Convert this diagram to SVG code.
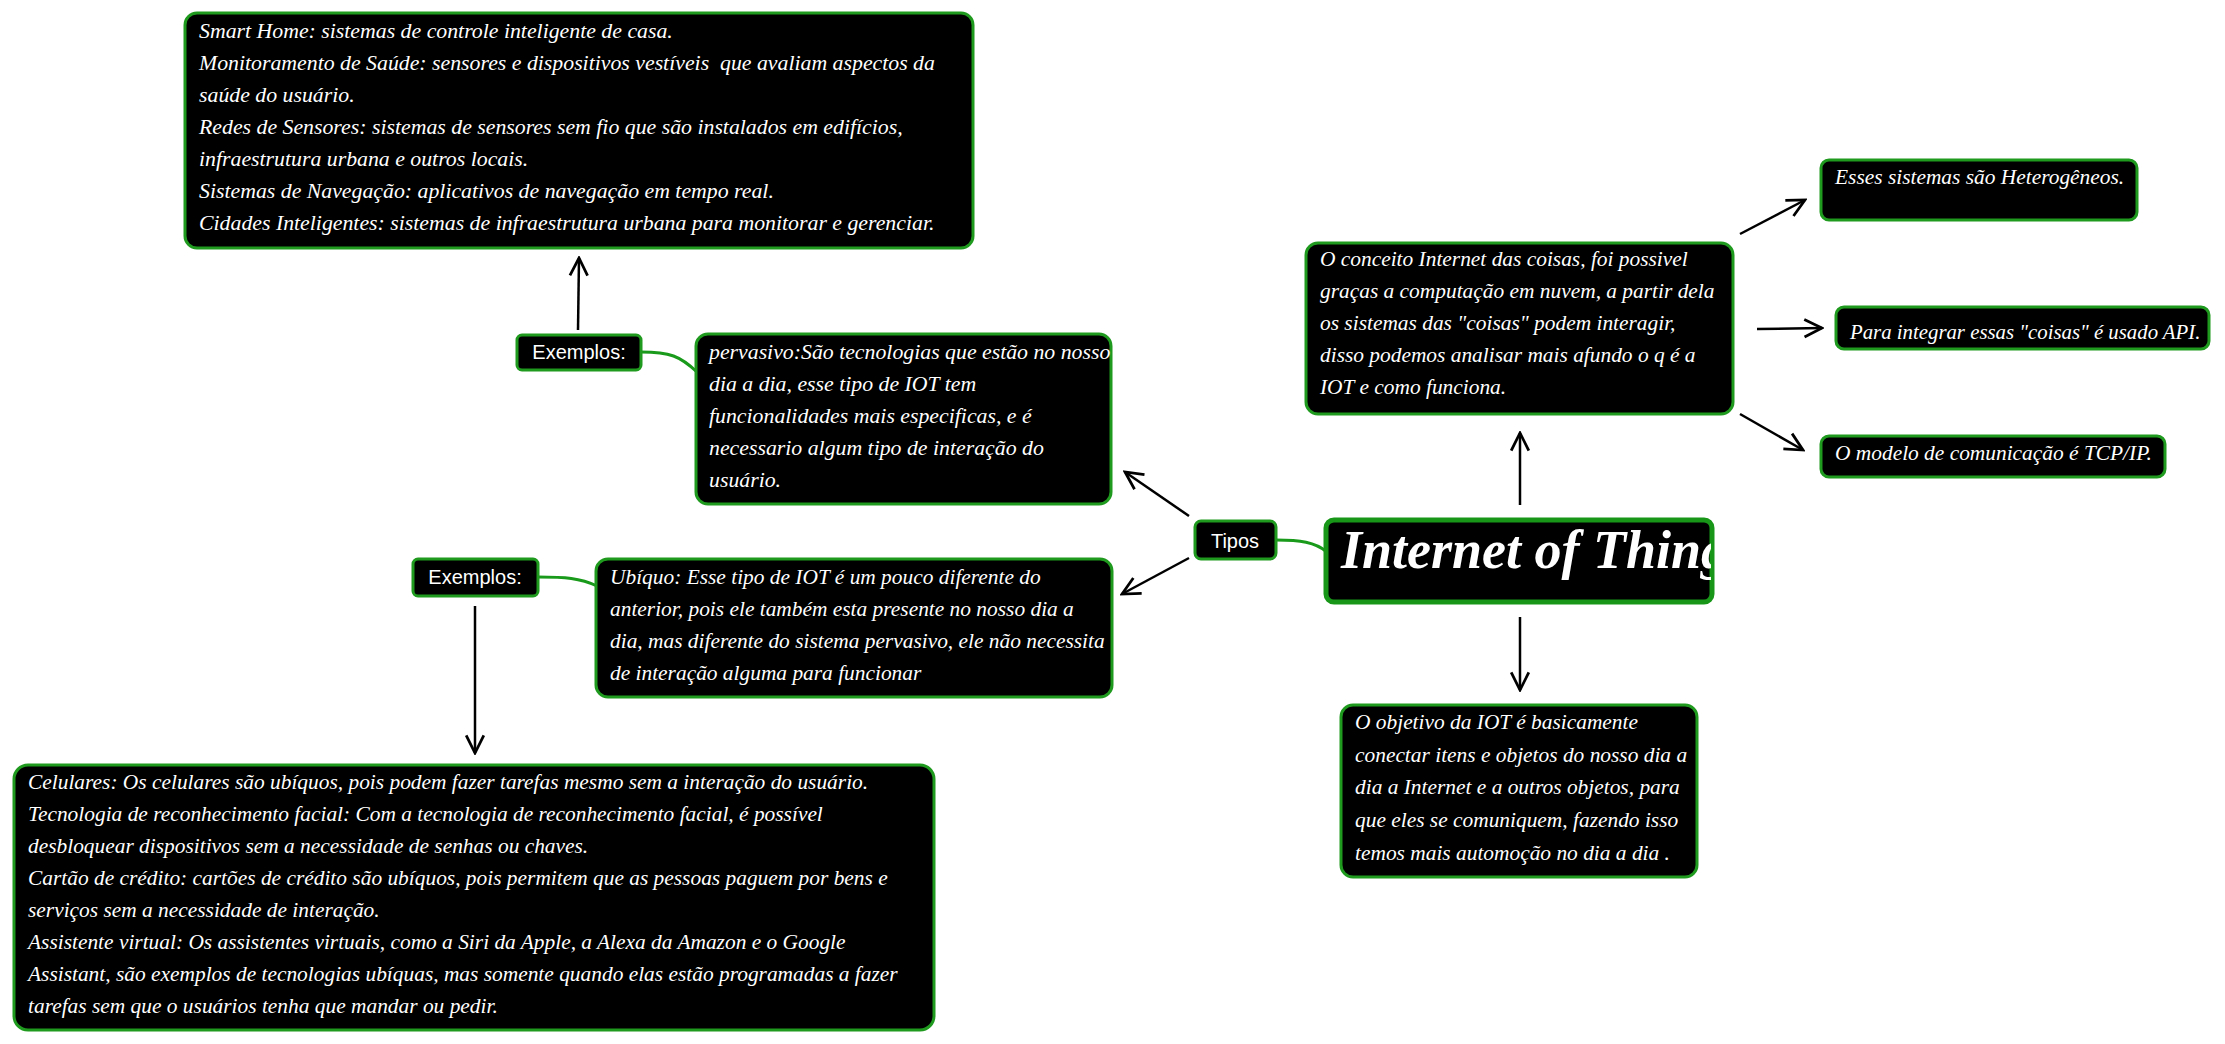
<svg xmlns="http://www.w3.org/2000/svg" width="2225" height="1044" viewBox="0 0 2225 1044">
<style>
.box{fill:#000;stroke:#1f9a1f;stroke-width:3}
.main{fill:#000;stroke:#179617;stroke-width:5}
.t{font-family:"Liberation Serif","Times New Roman",serif;font-style:italic;font-size:21.4px;fill:#fff;white-space:pre}
.w{font-size:21.8px}
.n{font-size:20.8px}
.s{font-family:"Liberation Sans",Arial,sans-serif;font-size:20px;fill:#fff;text-anchor:middle}
.title{font-family:"Liberation Serif","Times New Roman",serif;font-style:italic;font-weight:bold;font-size:54px;fill:#fff}
.arr{stroke:#000;stroke-width:2.5;fill:none;marker-end:url(#ah)}
.gl{stroke:#1a9a1a;stroke-width:3;fill:none}
</style>
<defs>
<marker id="ah" viewBox="0 0 20 20" refX="18" refY="10" markerWidth="22" markerHeight="22" markerUnits="userSpaceOnUse" orient="auto">
<path d="M2,2 L18,10 L2,18" fill="none" stroke="#000" stroke-width="2.5"/>
</marker>
<clipPath id="mc"><rect x="1327" y="521" width="384" height="80" rx="8"/></clipPath>
</defs>
<rect width="2225" height="1044" fill="#fff"/>

<g id="connectors">
<path class="gl" d="M641,352 C670,352 680,356 697,372"/>
<path class="gl" d="M538,577 C565,577 580,578 597,586"/>
<path class="gl" d="M1276,540 C1300,540 1315,542 1327,552"/>
<line class="arr" x1="578" y1="330" x2="579" y2="258"/>
<line class="arr" x1="1189" y1="516" x2="1125" y2="472"/>
<line class="arr" x1="1189" y1="558" x2="1122" y2="594"/>
<line class="arr" x1="475" y1="606" x2="475" y2="753"/>
<line class="arr" x1="1520" y1="505" x2="1520" y2="433"/>
<line class="arr" x1="1520" y1="617" x2="1520" y2="690"/>
<line class="arr" x1="1740" y1="234" x2="1805" y2="200"/>
<line class="arr" x1="1757" y1="329" x2="1822" y2="328"/>
<line class="arr" x1="1740" y1="414" x2="1803" y2="450"/>
</g>

<g id="exemplos-smart">
<rect class="box" x="185" y="13" width="788" height="235" rx="12"/>
<text class="t w" x="199" y="38">Smart Home: sistemas de controle inteligente de casa.</text>
<text class="t w" x="199" y="70">Monitoramento de Saúde: sensores e dispositivos vestíveis  que avaliam aspectos da</text>
<text class="t w" x="199" y="102">saúde do usuário.</text>
<text class="t w" x="199" y="134">Redes de Sensores: sistemas de sensores sem fio que são instalados em edifícios,</text>
<text class="t w" x="199" y="166">infraestrutura urbana e outros locais.</text>
<text class="t w" x="199" y="198">Sistemas de Navegação: aplicativos de navegação em tempo real.</text>
<text class="t w" x="199" y="230">Cidades Inteligentes: sistemas de infraestrutura urbana para monitorar e gerenciar.</text>
</g>

<g id="exemplos1">
<rect class="box" x="517" y="335" width="124" height="35" rx="5"/>
<text class="s" x="579" y="359">Exemplos:</text>
</g>

<g id="pervasivo">
<rect class="box" x="696" y="334" width="415" height="170" rx="12"/>
<text class="t w" x="709" y="359">pervasivo:São tecnologias que estão no nosso</text>
<text class="t w" x="709" y="391">dia a dia, esse tipo de IOT tem</text>
<text class="t w" x="709" y="423">funcionalidades mais especificas, e é</text>
<text class="t w" x="709" y="455">necessario algum tipo de interação do</text>
<text class="t w" x="709" y="487">usuário.</text>
</g>

<g id="tipos">
<rect class="box" x="1195" y="521" width="81" height="38" rx="6"/>
<text class="s" x="1235" y="548">Tipos</text>
</g>

<g id="main">
<rect class="main" x="1326" y="520" width="386" height="82" rx="8"/>
<g clip-path="url(#mc)">
<text class="title" x="1341" y="568">Internet of Things</text>
</g>
</g>

<g id="exemplos2">
<rect class="box" x="413" y="559" width="125" height="37" rx="5"/>
<text class="s" x="475" y="584">Exemplos:</text>
</g>

<g id="ubiquo">
<rect class="box" x="596" y="559" width="516" height="138" rx="12"/>
<text class="t" x="610" y="584">Ubíquo: Esse tipo de IOT é um pouco diferente do</text>
<text class="t" x="610" y="616">anterior, pois ele também esta presente no nosso dia a</text>
<text class="t" x="610" y="648">dia, mas diferente do sistema pervasivo, ele não necessita</text>
<text class="t" x="610" y="680">de interação alguma para funcionar</text>
</g>

<g id="celulares">
<rect class="box" x="14" y="765" width="920" height="265" rx="14"/>
<text class="t" x="28" y="789">Celulares: Os celulares são ubíquos, pois podem fazer tarefas mesmo sem a interação do usuário.</text>
<text class="t" x="28" y="821">Tecnologia de reconhecimento facial: Com a tecnologia de reconhecimento facial, é possível</text>
<text class="t" x="28" y="853">desbloquear dispositivos sem a necessidade de senhas ou chaves.</text>
<text class="t" x="28" y="885">Cartão de crédito: cartões de crédito são ubíquos, pois permitem que as pessoas paguem por bens e</text>
<text class="t" x="28" y="917">serviços sem a necessidade de interação.</text>
<text class="t" x="28" y="949">Assistente virtual: Os assistentes virtuais, como a Siri da Apple, a Alexa da Amazon e o Google</text>
<text class="t" x="28" y="981">Assistant, são exemplos de tecnologias ubíquas, mas somente quando elas estão programadas a fazer</text>
<text class="t" x="28" y="1013">tarefas sem que o usuários tenha que mandar ou pedir.</text>
</g>

<g id="conceito">
<rect class="box" x="1306" y="243" width="427" height="171" rx="12"/>
<text class="t" x="1320" y="266">O conceito Internet das coisas, foi possivel</text>
<text class="t" x="1320" y="298">graças a computação em nuvem, a partir dela</text>
<text class="t" x="1320" y="330">os sistemas das "coisas" podem interagir,</text>
<text class="t" x="1320" y="362">disso podemos analisar mais afundo o q é a</text>
<text class="t" x="1320" y="394">IOT e como funciona.</text>
</g>

<g id="heterogeneos">
<rect class="box" x="1821" y="160" width="316" height="60" rx="8"/>
<text class="t" x="1835" y="184">Esses sistemas são Heterogêneos.</text>
</g>

<g id="api">
<rect class="box" x="1836" y="307" width="373" height="42" rx="8"/>
<text class="t n" x="1850" y="339">Para integrar essas "coisas" é usado API.</text>
</g>

<g id="tcp">
<rect class="box" x="1821" y="436" width="344" height="41" rx="8"/>
<text class="t" x="1835" y="460">O modelo de comunicação é TCP/IP.</text>
</g>

<g id="objetivo">
<rect class="box" x="1341" y="705" width="356" height="172" rx="12"/>
<text class="t" x="1355" y="729">O objetivo da IOT é basicamente</text>
<text class="t" x="1355" y="762">conectar itens e objetos do nosso dia a</text>
<text class="t" x="1355" y="794">dia a Internet e a outros objetos, para</text>
<text class="t" x="1355" y="827">que eles se comuniquem, fazendo isso</text>
<text class="t" x="1355" y="860">temos mais automoção no dia a dia .</text>
</g>
</svg>
